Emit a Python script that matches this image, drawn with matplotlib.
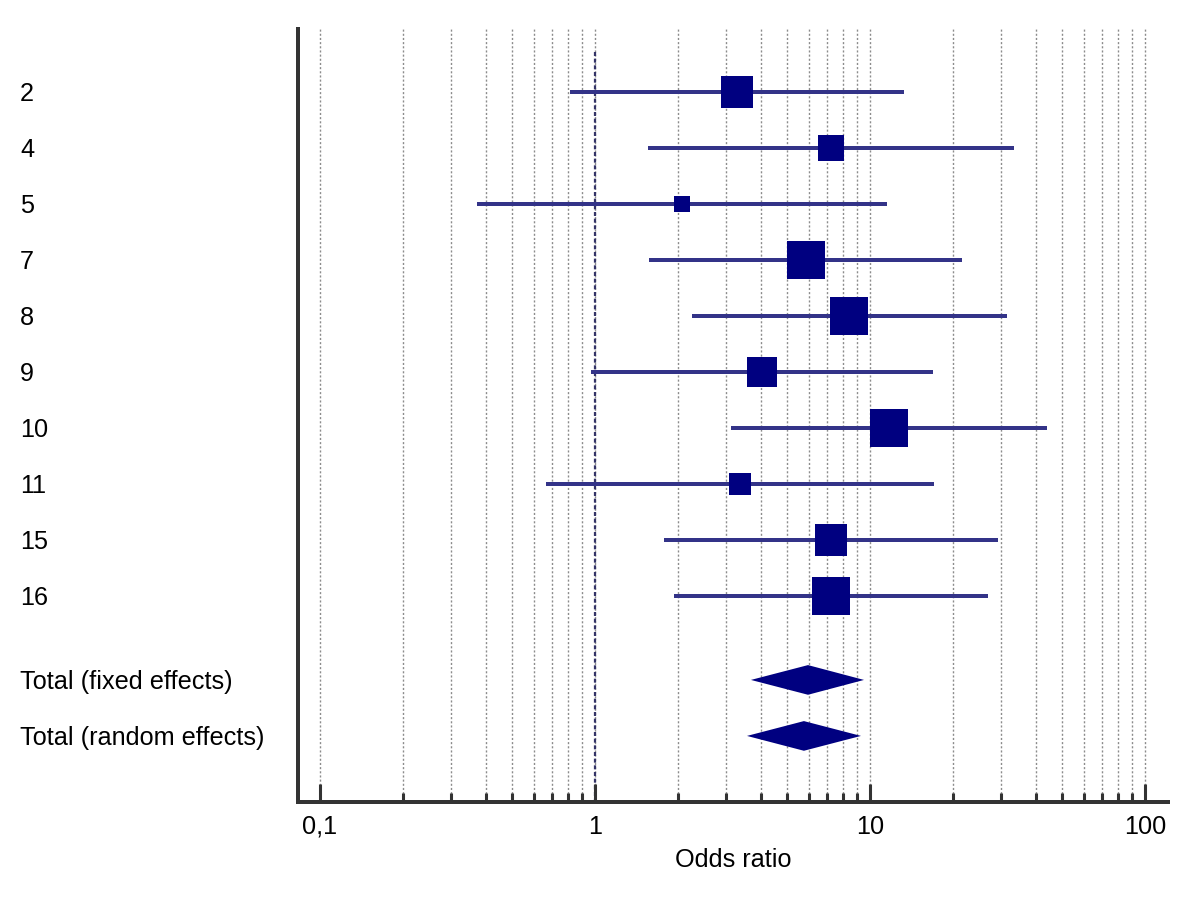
import numpy as np
import matplotlib
matplotlib.use("Agg")
import matplotlib.pyplot as plt
from matplotlib.ticker import FixedLocator, NullFormatter
from matplotlib.transforms import blended_transform_factory
from matplotlib.patches import Polygon

plt.rcParams['font.family'] = ['Liberation Sans', 'DejaVu Sans']

# исследования
studies = ['2', '4', '5', '7', '8', '9', '10', '11', '15', '16']
odds = [3.28, 7.21, 2.07, 5.85, 8.39, 4.05, 11.7, 3.37, 7.21, 7.21]
ci_low = [0.81, 1.56, 0.372, 1.57, 2.25, 0.967, 3.12, 0.663, 1.78, 1.94]
ci_high = [13.3, 33.4, 11.5, 21.6, 31.5, 16.9, 44.0, 17.1, 29.2, 26.9]
weights = [10.3, 6.8, 2.6, 14.5, 14.5, 9.1, 14.5, 4.9, 10.3, 14.5]  # %

# суммарные оценки
totals = ['Total (fixed effects)', 'Total (random effects)']
tot_odds = [5.95, 5.75]
tot_low = [3.69, 3.57]
tot_high = [9.51, 9.27]

navy = '#000080'
line_col = '#333388'
px = 0.72  # points per pixel at dpi=100
fs = 18.2

fig = plt.figure(figsize=(12, 9), dpi=100)
ax = fig.add_axes([298 / 1200, 1 - 802 / 900, (1168 - 298) / 1200, (802 - 29) / 900])

ax.set_xscale('log')
ax.set_xlim(0.0832, 121.2)
ax.set_ylim(12.68, -1.125)

# сетка
major = [0.1, 1, 10, 100]
minor = [m * d for d in (0.1, 1, 10) for m in range(2, 10)]
for v in major + minor:
    ax.axvline(v, color='#8c8c8c', lw=1, ls=(0, (1.5, 1.5)), zorder=0)

# линия OR = 1
ax.vlines(1, -0.71, 12.68, color='#333366', lw=1.6, ls=(0, (1.8, 1.2)), zorder=1)

y_st = np.arange(len(studies))
ax.hlines(y_st, ci_low, ci_high, color=line_col, lw=4 * px, zorder=2)
sides = 9.98 * np.sqrt(weights) * px
ax.scatter(odds, y_st, s=sides ** 2, marker='s', color=navy, linewidths=0, zorder=3)

y_tot = [10.5, 11.5]
h = 0.265
for yy, lo, est, hi in zip(y_tot, tot_low, tot_odds, tot_high):
    ax.add_patch(Polygon([(lo, yy), (est, yy - h), (hi, yy), (est, yy + h)],
                         closed=True, color=navy, lw=0, zorder=3))

# подписи слева
tr = blended_transform_factory(fig.transFigure, ax.transData)
for lab, yy in zip(studies + totals, list(y_st) + y_tot):
    ax.text(20 / 1200, yy, lab, transform=tr, ha='left', va='center_baseline', fontsize=fs)

# оси
for s in ['top', 'right']:
    ax.spines[s].set_visible(False)
for s in ['left', 'bottom']:
    ax.spines[s].set_linewidth(4 * px)
    ax.spines[s].set_color('#333333')
ax.set_yticks([])
ax.xaxis.set_major_locator(FixedLocator(major))
ax.xaxis.set_minor_locator(FixedLocator(minor))
ax.xaxis.set_minor_formatter(NullFormatter())
ax.set_xticklabels(['0,1', '1', '10', '100'])
ax.tick_params(axis='x', which='major', direction='in', length=13, width=2.2,
               color='#333333', labelsize=fs, pad=9)
ax.tick_params(axis='x', which='minor', direction='in', length=6.5, width=2.2,
               color='#333333')
ax.set_xlabel('Odds ratio', fontsize=fs, labelpad=7)

fig.savefig('out.png', dpi=100)
